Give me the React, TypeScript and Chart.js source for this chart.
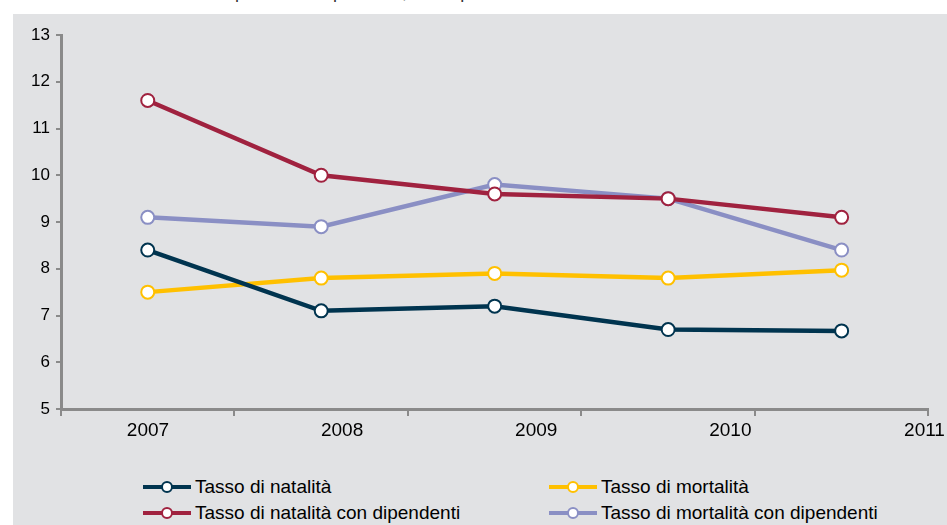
import React, { useEffect, useRef } from "react";
import { Chart, registerables } from "chart.js";

Chart.register(...registerables);

const years = ["2007", "2008", "2009", "2010", "2011"];
const natalita = [8.4, 7.1, 7.2, 6.7, 6.67];
const mortalita = [7.5, 7.8, 7.9, 7.8, 7.97];
const natalitaDip = [11.6, 10.0, 9.6, 9.5, 9.1];
const mortalitaDip = [9.1, 8.9, 9.8, 9.5, 8.4];

const seriesNames = [
  "Tasso di natalità",
  "Tasso di mortalità",
  "Tasso di natalità con dipendenti",
  "Tasso di mortalità con dipendenti",
];
const seriesColors = ["#00344f", "#ffc000", "#a0223f", "#8a8fc4"];
const seriesData = [natalita, mortalita, natalitaDip, mortalitaDip];

const FONT = "'Liberation Sans', Arial, sans-serif";
const AXIS = "#8a8a8a";

function LegendItem({ color, label }: { color: string; label: string }) {
  return (
    <div style={{ display: "flex", alignItems: "center", height: 26 }}>
      <div style={{ position: "relative", width: 48, height: 12, marginRight: 4 }}>
        <div
          style={{
            position: "absolute",
            left: 0,
            right: 0,
            top: 4,
            height: 4,
            background: color,
          }}
        />
        <div
          style={{
            position: "absolute",
            left: 18,
            top: 0,
            width: 8,
            height: 8,
            borderRadius: "50%",
            background: "#fff",
            border: `2px solid ${color}`,
          }}
        />
      </div>
      <span style={{ fontFamily: FONT, fontSize: 19, color: "#000" }}>{label}</span>
    </div>
  );
}

export default function App() {
  const ref = useRef<HTMLCanvasElement | null>(null);

  useEffect(() => {
    document.body.style.overflow = "hidden";
    const ctx = ref.current!;
    const chart = new Chart(ctx, {
      type: "line",
      data: {
        labels: years,
        datasets: seriesData.map((d, i) => ({
          label: seriesNames[i],
          data: d,
          borderColor: seriesColors[i],
          backgroundColor: "#ffffff",
          borderWidth: 4.5,
          pointRadius: 6.5,
          pointBorderWidth: 2,
          pointBackgroundColor: "#ffffff",
          pointBorderColor: seriesColors[i],
          tension: 0,
          fill: false,
        })),
      },
      options: {
        animation: false,
        responsive: false,
        maintainAspectRatio: false,
        layout: { padding: { top: 21, right: 18, left: 0, bottom: 0 } },
        plugins: { legend: { display: false }, tooltip: { enabled: false } },
        scales: {
          x: {
            type: "category",
            offset: true,
            grid: {
              offset: true,
              drawOnChartArea: false,
              drawTicks: true,
              tickLength: 7,
              color: AXIS,
              lineWidth: 2,
            },
            border: { display: true, color: AXIS, width: 3 },
            ticks: { display: false },
            afterFit: (s: any) => {
              s.height = 8;
            },
          },
          x2: {
            type: "linear",
            position: "bottom",
            min: -0.448,
            max: 4.02,
            grid: { display: false, drawTicks: false },
            border: { display: false },
            afterBuildTicks: (s: any) => {
              s.ticks = years.map((_, i) => ({ value: i }));
            },
            ticks: {
              autoSkip: false,
              maxRotation: 0,
              padding: 2,
              color: "#000",
              font: { family: FONT, size: 19 },
              callback: (v: any) => years[Math.round(Number(v))] ?? "",
            },
            afterFit: (s: any) => {
              s.height = 26;
            },
          },
          y: {
            min: 5,
            max: 13,
            grid: {
              drawOnChartArea: false,
              drawTicks: true,
              tickLength: 5,
              color: AXIS,
              lineWidth: 2,
            },
            border: { display: true, color: AXIS, width: 3 },
            ticks: {
              stepSize: 1,
              padding: 6,
              color: "#000",
              font: { family: FONT, size: 17 },
            },
            afterFit: (s: any) => {
              s.width = 48;
            },
          },
        },
      },
    });
    return () => chart.destroy();
  }, []);

  return (
    <div
      style={{
        position: "absolute",
        left: 0,
        top: 0,
        width: 947,
        height: 525,
        background: "#ffffff",
        overflow: "hidden",
      }}
    >
      <div
        style={{
          position: "absolute",
          left: 215,
          top: -18,
          fontFamily: FONT,
          fontSize: 18,
          color: "#333",
          whiteSpace: "nowrap",
        }}
      >
        Imprese con dipendenti, valori percentuali
      </div>
      <div
        style={{
          position: "absolute",
          left: 13,
          top: 14,
          width: 934,
          height: 511,
          background: "#e1e2e4",
        }}
      >
        <canvas ref={ref} width={934} height={429} style={{ display: "block" }} />
        <div
          style={{
            position: "absolute",
            left: 130,
            top: 460,
            display: "grid",
            gridTemplateColumns: "406px 360px",
          }}
        >
          {seriesNames.map((n, i) => (
            <LegendItem key={n} color={seriesColors[i]} label={n} />
          ))}
        </div>
      </div>
    </div>
  );
}
